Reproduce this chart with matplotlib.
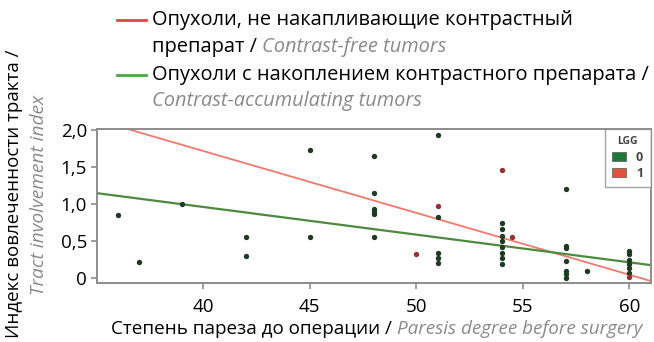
import numpy as np
import matplotlib.pyplot as plt
from matplotlib.patches import Patch

plt.rcParams['font.family'] = ['Open Sans', 'DejaVu Sans']

# LGG = 0 (green points)
x0 = [36, 37, 39, 42, 42, 45, 45, 48, 48, 48, 48, 48, 48,
      51, 51, 51, 51, 51,
      54, 54, 54, 54, 54, 54, 54, 54,
      57, 57, 57, 57, 57, 57, 57, 58,
      60, 60, 60, 60, 60, 60]
y0 = [0.85, 0.22, 1.0, 0.56, 0.30, 1.73, 0.56, 1.66, 1.15, 0.93, 0.90, 0.87, 0.56,
      1.94, 0.83, 0.34, 0.27, 0.20,
      0.75, 0.66, 0.57, 0.50, 0.42, 0.34, 0.27, 0.19,
      1.21, 0.43, 0.41, 0.23, 0.09, 0.05, 0.0, 0.09,
      0.36, 0.32, 0.25, 0.19, 0.14, 0.07]
# LGG = 1 (red points)
x1 = [50, 51, 54, 54.5, 60]
y1 = [0.33, 0.97, 1.46, 0.55, 0.02]

# fitted lines
red_line_x = [35, 61]
red_line_y = [2.14, -0.04]
green_line_x = [35, 61]
green_line_y = [1.15, 0.175]

xticks = [40, 45, 50, 55, 60]
yticks = [0, 0.5, 1.0, 1.5, 2.0]
ytick_labels = ['0', '0,5', '1,0', '1,5', '2,0']

red = '#e8453c'
gray = '#8a8a8a'
frame = '#8c8c8c'

fig = plt.figure(figsize=(6.54, 3.42), dpi=100)
ax = fig.add_axes([0.148, 0.172, 0.847, 0.451])

ax.plot(red_line_x, red_line_y, color='#f07a6e', lw=1.3, zorder=2)
ax.plot(green_line_x, green_line_y, color='#4e8a3e', lw=1.6, zorder=2)
ax.scatter(x0, y0, s=15, color='#1d3b20', zorder=3, linewidths=0)
ax.scatter(x1, y1, s=15, color='#9a2f2f', zorder=3, linewidths=0)

ax.set_xlim(35, 61)
ax.set_ylim(-0.07, 2.02)
ax.set_xticks(xticks)
ax.set_yticks(yticks)
ax.set_yticklabels(ytick_labels)
ax.tick_params(axis='both', colors=frame, labelcolor='black', labelsize=13.5,
               length=4, width=1.2)
ax.tick_params(axis='x', pad=7)
ax.tick_params(axis='y', pad=3)
for sp in ax.spines.values():
    sp.set_color(frame)
    sp.set_linewidth(1.4)

# small legend inside the axes
leg = ax.legend(handles=[Patch(facecolor='#1f7a3a', edgecolor='#555555', lw=0.5, label='0'),
                         Patch(facecolor='#e0533f', edgecolor='#555555', lw=0.5, label='1')],
                title='LGG', loc='upper right', fontsize=9, title_fontsize=7.5,
                handlelength=1.1, handleheight=0.7, handletextpad=0.8,
                borderpad=0.6, labelspacing=0.25, frameon=True, fancybox=False,
                borderaxespad=0.0)
leg.get_frame().set_edgecolor(frame)
leg.get_frame().set_linewidth(1.0)
leg.get_title().set_fontweight('bold')
leg.get_title().set_color('#444444')
for t in leg.get_texts():
    t.set_fontweight('bold')
    t.set_color('#444444')

# x label: russian + italic english
fs = 13.6
t1 = fig.text(111 / 654, 1 - 329 / 342, 'Степень пареза до операции / ',
              fontsize=fs, va='center', ha='left')
ax.annotate('Paresis degree before surgery', xy=(1, 0.5), xycoords=t1,
            va='center', ha='left', fontsize=fs, style='italic', color=gray)

# y label (two rotated lines)
fig.text(14 / 654, 1 - 194 / 342, 'Индекс вовлеченности тракта /', rotation=90,
         fontsize=13.5, va='center', ha='center')
fig.text(39 / 654, 1 - 195 / 342, 'Tract involvement index', rotation=90,
         fontsize=13.8, va='center', ha='center', style='italic', color=gray)

# top legend
fl = 14.4
fig.add_artist(plt.Line2D([117 / 654, 146 / 654], [1 - 20 / 342] * 2, color=red, lw=2))
fig.text(152 / 654, 1 - 20 / 342, 'Опухоли, не накапливающие контрастный',
         fontsize=fl, va='center', ha='left')
t2 = fig.text(152 / 654, 1 - 47 / 342, 'препарат / ', fontsize=fl, va='center', ha='left')
ax.annotate('Contrast-free tumors', xy=(1, 0.5), xycoords=t2, va='center', ha='left',
            fontsize=fl, style='italic', color=gray)
fig.add_artist(plt.Line2D([117 / 654, 146 / 654], [1 - 75 / 342] * 2, color='#4ea64a', lw=2))
fig.text(152 / 654, 1 - 75 / 342, 'Опухоли с накоплением контрастного препарата /',
         fontsize=fl, va='center', ha='left')
fig.text(152 / 654, 1 - 101 / 342, 'Contrast-accumulating tumors', fontsize=fl,
         va='center', ha='left', style='italic', color=gray)

fig.savefig('out.png', dpi=100)
